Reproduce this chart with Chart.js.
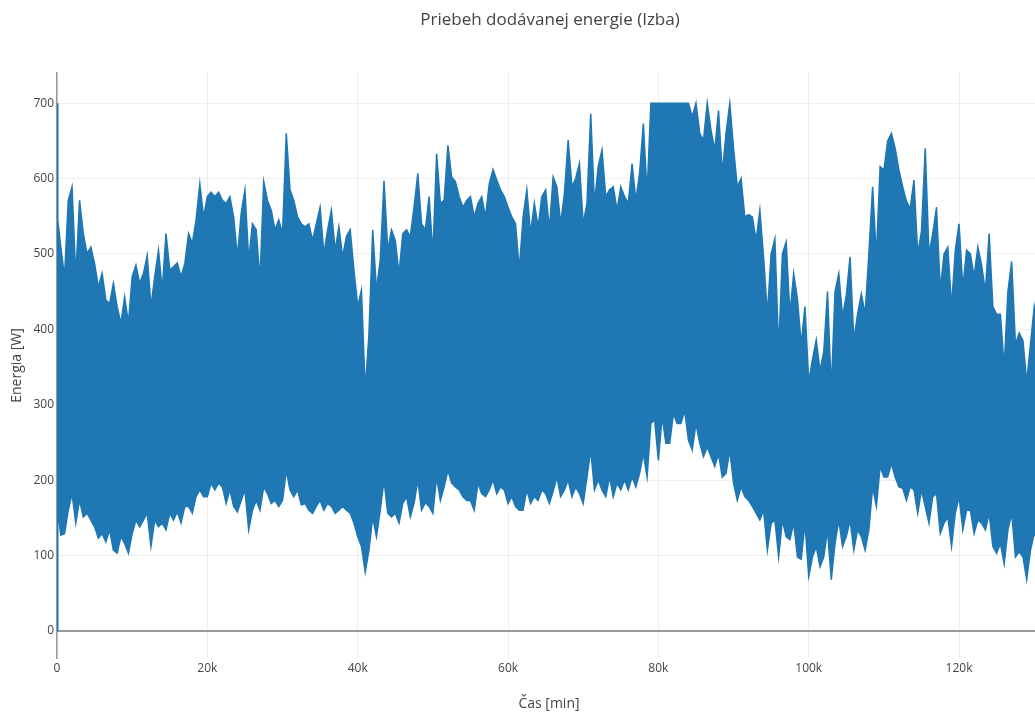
<!DOCTYPE html>
<html>
<head>
<meta charset="utf-8">
<script src="https://cdn.jsdelivr.net/npm/chart.js@4.4.1/dist/chart.umd.min.js"></script>
<style>
  html, body { margin: 0; padding: 0; background: #fff; overflow: hidden; }
  #wrap { width: 1100px; height: 713px; position: relative; }
</style>
</head>
<body>
<div id="wrap"><canvas id="c"></canvas></div>
<script>
// Time axis samples, in thousands of minutes
const timeK = [
  0, 0.1, 0.5, 1, 1.5, 2, 2.5, 3, 3.5, 4, 4.5, 5, 5.5, 6, 6.5, 7, 7.5, 8, 8.5, 9, 9.5,
  10, 10.5, 11, 11.5, 12, 12.5, 13, 13.5, 14, 14.5, 15, 15.5, 16, 16.5, 17, 17.5, 18, 18.5, 19, 19.5,
  20, 20.5, 21, 21.5, 22, 22.5, 23, 23.5, 24, 24.5, 25, 25.5, 26, 26.5, 27, 27.5, 28, 28.5, 29, 29.5,
  30, 30.5, 31, 31.5, 32, 32.5, 33, 33.5, 34, 34.5, 35, 35.5, 36, 36.5, 37, 37.5, 38, 38.5, 39, 39.5,
  40, 40.5, 41, 41.5, 42, 42.5, 43, 43.5, 44, 44.5, 45, 45.5, 46, 46.5, 47, 47.5, 48, 48.5, 49, 49.5,
  50, 50.5, 51, 51.5, 52, 52.5, 53, 53.5, 54, 54.5, 55, 55.5, 56, 56.5, 57, 57.5, 58, 58.5, 59, 59.5,
  60, 60.5, 61, 61.5, 62, 62.5, 63, 63.5, 64, 64.5, 65, 65.5, 66, 66.5, 67, 67.5, 68, 68.5, 69, 69.5,
  70, 70.5, 71, 71.5, 72, 72.5, 73, 73.5, 74, 74.5, 75, 75.5, 76, 76.5, 77, 77.5, 78, 78.5, 79, 79.5,
  80, 80.5, 81, 81.5, 82, 82.5, 83, 83.5, 84, 84.5, 85, 85.5, 86, 86.5, 87, 87.5, 88, 88.5, 89, 89.5,
  90, 90.5, 91, 91.5, 92, 92.5, 93, 93.5, 94, 94.5, 95, 95.5, 96, 96.5, 97, 97.5, 98, 98.5, 99, 99.5,
  100, 100.5, 101, 101.5, 102, 102.5, 103, 103.5, 104, 104.5, 105, 105.5, 106, 106.5, 107, 107.5, 108, 108.5, 109, 109.5,
  110, 110.5, 111, 111.5, 112, 112.5, 113, 113.5, 114, 114.5, 115, 115.5, 116, 116.5, 117, 117.5, 118, 118.5, 119, 119.5,
  120, 120.5, 121, 121.5, 122, 122.5, 123, 123.5, 124, 124.5, 125, 125.5, 126, 126.5, 127, 127.5, 128, 128.5, 129, 129.5,
  130, 130.5
];

// Upper envelope of the supplied power [W]
const powerHigh = [
  700, 545, 509, 470, 571, 589, 470, 571, 527, 500, 509, 487, 456, 474, 439, 434, 461, 430, 408, 443, 408,
  470, 485, 461, 474, 498, 430, 470, 505, 452, 527, 479, 483, 488, 470, 487, 527, 514, 545, 593, 549,
  576, 582, 576, 582, 571, 567, 576, 549, 496, 554, 585, 492, 540, 532, 465, 596, 571, 558, 532, 545,
  527, 660, 585, 571, 549, 540, 536, 540, 518, 540, 562, 500, 532, 558, 505, 536, 496, 523, 532, 479,
  430, 452, 319, 394, 532, 452, 492, 597, 505, 532, 518, 474, 527, 532, 523, 562, 607, 540, 532, 576,
  500, 633, 567, 571, 644, 602, 596, 576, 562, 571, 576, 549, 567, 576, 549, 593, 612, 598, 585, 576,
  562, 549, 540, 479, 549, 585, 527, 567, 536, 576, 585, 532, 602, 589, 540, 580, 651, 589, 600, 620,
  540, 567, 686, 567, 616, 638, 576, 585, 589, 558, 589, 576, 567, 620, 571, 607, 673, 580, 700, 700,
  700, 700, 700, 700, 700, 700, 700, 700, 700, 682, 700, 660, 651, 700, 664, 638, 690, 607, 660, 700,
  640, 589, 600, 549, 552, 549, 518, 558, 495, 420, 500, 520, 372, 500, 516, 420, 474, 440, 380, 430,
  330, 360, 386, 345, 370, 450, 319, 450, 474, 417, 445, 496, 386, 420, 447, 420, 500, 589, 496, 616,
  611, 650, 660, 640, 611, 589, 570, 560, 598, 500, 530, 640, 500, 527, 562, 452, 500, 509, 430, 505,
  540, 455, 505, 500, 470, 509, 485, 450, 527, 430, 420, 420, 350, 450, 490, 380, 395, 385, 330, 380,
  430, 400
];

// Lower envelope of the supplied power [W]
const powerLow = [
  0, 160, 127, 129, 160, 182, 143, 173, 151, 156, 147, 138, 123, 129, 118, 134, 107, 103, 125, 116, 103,
  129, 147, 138, 147, 156, 112, 147, 138, 143, 134, 156, 147, 158, 143, 165, 165, 156, 178, 187, 178,
  178, 196, 187, 196, 191, 169, 187, 165, 158, 173, 187, 134, 160, 173, 160, 191, 182, 169, 173, 165,
  173, 213, 187, 178, 187, 167, 169, 160, 156, 165, 173, 160, 169, 165, 156, 160, 165, 160, 156, 143,
  125, 112, 78, 107, 151, 125, 160, 200, 156, 151, 156, 143, 169, 178, 151, 169, 200, 160, 170, 165,
  156, 204, 173, 191, 213, 196, 191, 187, 178, 173, 173, 160, 196, 182, 178, 187, 200, 182, 191, 187,
  169, 178, 165, 160, 160, 187, 169, 178, 173, 187, 182, 169, 185, 204, 178, 187, 200, 178, 191, 182,
  169, 204, 240, 187, 200, 187, 178, 204, 178, 196, 187, 200, 187, 204, 191, 209, 235, 204, 275, 280,
  226, 284, 249, 249, 288, 275, 275, 292, 253, 240, 275, 249, 231, 244, 231, 218, 235, 204, 209, 240,
  196, 173, 191, 178, 173, 165, 156, 147, 160, 107, 143, 147, 98, 147, 125, 121, 143, 98, 95, 143,
  72, 98, 112, 85, 98, 134, 68, 116, 147, 112, 125, 147, 107, 134, 125, 107, 134, 191, 165, 218,
  204, 204, 222, 204, 191, 189, 173, 191, 187, 156, 187, 165, 143, 178, 182, 129, 143, 151, 112, 156,
  178, 134, 160, 160, 129, 147, 143, 134, 156, 112, 103, 116, 89, 134, 156, 98, 105, 98, 68, 107,
  129, 120
];

const xTicks = [0, 20, 40, 60, 80, 100, 120];
const xTickLabels = ['0', '20k', '40k', '60k', '80k', '100k', '120k'];
const yTicks = [0, 100, 200, 300, 400, 500, 600, 700];

const BLUE = '#1f77b4';
const TEXT = '#444';
const FONT = "'Open Sans', 'Noto Sans', sans-serif";

const lowPts = timeK.map((t, i) => ({ x: t, y: powerLow[i] }));
const highPts = timeK.map((t, i) => ({ x: t, y: powerHigh[i] }));

new Chart(document.getElementById('c'), {
  type: 'line',
  data: {
    datasets: [
      {
        data: lowPts,
        borderColor: BLUE,
        borderWidth: 1.5,
        pointRadius: 0,
        fill: false,
        tension: 0
      },
      {
        data: highPts,
        borderColor: BLUE,
        borderWidth: 1.5,
        backgroundColor: BLUE,
        pointRadius: 0,
        fill: '-1',
        tension: 0
      }
    ]
  },
  options: {
    responsive: true,
    maintainAspectRatio: false,
    animation: false,
    events: [],
    layout: { padding: 0 },
    plugins: {
      legend: { display: false },
      tooltip: { enabled: false },
      title: {
        display: true,
        text: 'Priebeh dodávanej energie (Izba)',
        color: TEXT,
        font: { family: FONT, size: 17, weight: 'normal' },
        padding: { top: 10, bottom: 42.6 }
      }
    },
    scales: {
      x: {
        type: 'linear',
        min: 0,
        max: 130.9,
        afterFit: (s) => { s.height = 55; },
        afterBuildTicks: (s) => { s.ticks = xTicks.map(v => ({ value: v })); },
        ticks: {
          color: TEXT,
          font: { family: FONT, size: 12 },
          padding: 3,
          maxRotation: 0,
          autoSkip: false,
          callback: (v) => xTickLabels[xTicks.indexOf(v)]
        },
        grid: { color: '#eee', lineWidth: 1, drawTicks: false },
        border: { display: false },
        title: {
          display: true,
          text: 'Čas [min]',
          color: TEXT,
          font: { family: FONT, size: 14 },
          padding: { top: 0, bottom: 1 }
        }
      },
      y: {
        type: 'linear',
        min: -36,
        max: 740,
        afterFit: (s) => { s.width = 57; },
        afterBuildTicks: (s) => { s.ticks = yTicks.map(v => ({ value: v })); },
        ticks: {
          color: TEXT,
          font: { family: FONT, size: 12 },
          padding: 3,
          callback: (v) => String(v)
        },
        grid: {
          drawTicks: false,
          color: (ctx) => (ctx.tick && ctx.tick.value === 0 ? '#999' : '#eee'),
          lineWidth: (ctx) => (ctx.tick && ctx.tick.value === 0 ? 2 : 1)
        },
        border: { display: true, color: '#999', width: 1.5 },
        title: {
          display: true,
          text: 'Energia [W]',
          color: TEXT,
          font: { family: FONT, size: 14 },
          padding: { top: 8.6, bottom: 0 }
        }
      },
      // empty right-hand margin of the figure
      yRight: {
        type: 'linear',
        position: 'right',
        min: -36,
        max: 740,
        afterFit: (s) => { s.width = 59; },
        ticks: { display: false },
        grid: { display: false, drawOnChartArea: false },
        border: { display: false }
      }
    }
  }
});
</script>
</body>
</html>
